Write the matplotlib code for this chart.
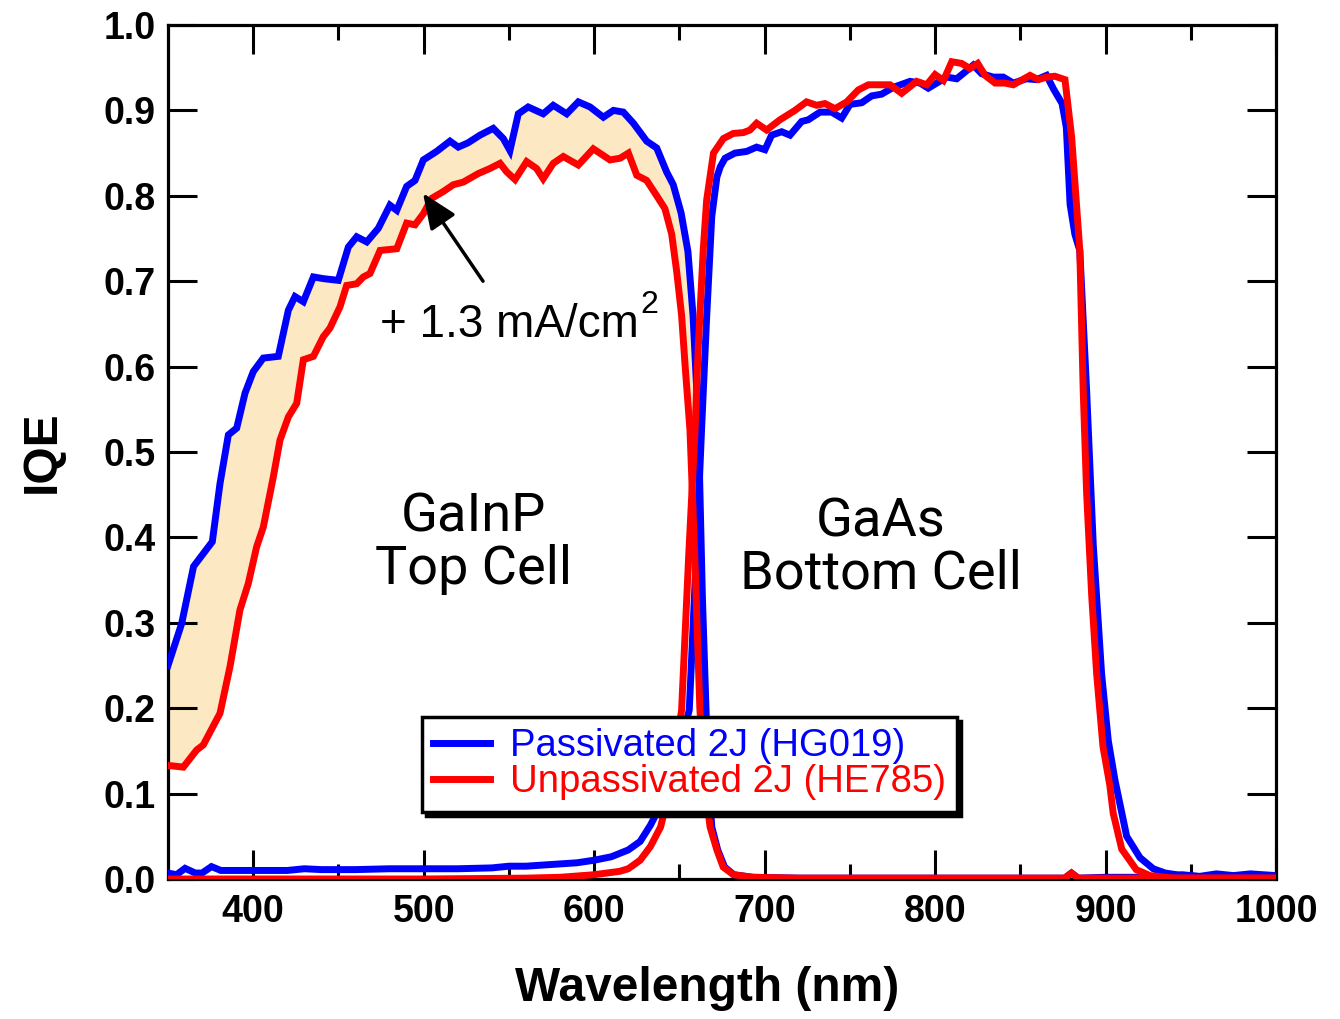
import numpy as np
import matplotlib
matplotlib.use("Agg")
import matplotlib.pyplot as plt

plt.rcParams['font.family'] = ['Liberation Sans', 'DejaVu Sans']

# ---------------- data ----------------
# Top cell (GaInP), passivated (blue)
wl_top_pass = [350, 358, 365, 376, 380.5, 385.4, 390.3, 395.2, 400, 405.9, 414.7, 420.6, 424.5, 429.4,
               435.3, 441.1, 449.9, 455.8, 460.7, 466.6, 473.4, 480.2, 484.2, 490, 494.9, 499.8, 507.6,
               515.4, 520.3, 526, 533, 540.8, 546.7, 550.6, 555.5, 561.3, 570.1, 576, 583.9, 590.7,
               597.6, 605.4, 611.3, 617.1, 623, 630.8, 636.7, 642.5, 646.4, 651, 655, 658, 660, 661.5,
               663.5, 665.6, 667, 669, 672.5, 676.5, 682, 693, 720, 760, 800, 840, 870, 876, 880, 884,
               900, 920, 935, 945, 955, 965, 975, 985, 1000]
iqe_top_pass = [0.25, 0.299, 0.366, 0.395, 0.463, 0.52, 0.528, 0.569, 0.594, 0.61, 0.612, 0.666, 0.682, 0.676,
                0.705, 0.703, 0.701, 0.74, 0.752, 0.746, 0.762, 0.789, 0.783, 0.811, 0.818, 0.842, 0.852,
                0.864, 0.857, 0.862, 0.871, 0.879, 0.867, 0.853, 0.896, 0.904, 0.896, 0.906, 0.896, 0.91,
                0.904, 0.892, 0.9, 0.898, 0.885, 0.864, 0.856, 0.828, 0.813, 0.78, 0.735, 0.66, 0.58, 0.5,
                0.33, 0.2, 0.12, 0.061, 0.034, 0.014, 0.005, 0.002, 0.001, 0.001, 0.001, 0.001, 0.001, 0.001, 0.007, 0.001,
                0.002, 0.002, 0.003, 0.005, 0.003, 0.006, 0.004, 0.006, 0.004]

# Top cell (GaInP), unpassivated (red)
wl_top_unpass = [350, 359, 366.8, 370.7, 380.5, 386.4, 392.2, 397.1, 402, 405.9, 411.8, 415.7, 420.6, 425.5,
                 429.4, 435.3, 441.1, 445, 450.9, 454.8, 460.7, 464.6, 468.5, 474.4, 484.2, 490, 494.9,
                 499.8, 504.7, 511.5, 517.4, 523.2, 532, 538.9, 544.8, 548.7, 553.6, 560.4, 566.2, 570.1,
                 576, 581.9, 590.7, 599.5, 609.3, 615.2, 620.1, 625, 630.8, 636.7, 641.5, 645.5, 648.5,
                 651.3, 653.4, 656.2, 659, 662, 665, 668, 672, 675.7, 681.7, 693, 720, 800, 870, 876, 880,
                 884, 940, 1000]
iqe_top_unpass = [0.133, 0.131, 0.151, 0.157, 0.194, 0.249, 0.315, 0.346, 0.389, 0.412, 0.471, 0.514, 0.541, 0.557,
                  0.608, 0.612, 0.635, 0.645, 0.67, 0.695, 0.697, 0.705, 0.709, 0.736, 0.738, 0.768, 0.766,
                  0.779, 0.797, 0.805, 0.813, 0.816, 0.826, 0.832, 0.838, 0.828, 0.819, 0.84, 0.832, 0.82,
                  0.838, 0.846, 0.836, 0.855, 0.842, 0.844, 0.85, 0.824, 0.818, 0.80, 0.785, 0.755, 0.71,
                  0.66, 0.60, 0.526, 0.38, 0.2, 0.11, 0.061, 0.034, 0.014, 0.005, 0.002, 0.001, 0.001, 0.001, 0.001, 0.007,
                  0.001, 0.001, 0.001]

# Bottom cell (GaAs), passivated (blue)
wl_bot_pass = [350, 355, 360, 366, 370, 375.5, 381, 400, 420, 430, 440, 460, 480, 500, 520, 540, 550, 560,
               575, 590, 600, 610, 615, 620, 627, 633, 640, 646, 651, 655.8, 659.5, 663, 666, 669, 672,
               674, 676.8, 682.6, 689.5, 695.3, 700.2, 704.1, 710, 714.9, 721.7, 725.6, 732.5, 739.3,
               745.2, 750.1, 757, 762.8, 768.6, 775.5, 785.3, 791.2, 796, 801, 806.8, 812.7, 817.6, 822.4,
               827.3, 834.1, 840, 845.9, 853.6, 859.5, 865.4, 869.5, 874.5, 877, 879.2, 882, 884.9, 888.9,
               892.8, 897.7, 901.6, 905.5, 912.4, 920.2, 928, 935, 945, 955, 965, 980, 1000]
iqe_bot_pass = [0.007, 0.005, 0.0125, 0.007, 0.007, 0.0145, 0.01, 0.01, 0.01, 0.012, 0.011, 0.011, 0.012, 0.012,
                0.012, 0.013, 0.015, 0.015, 0.017, 0.019, 0.022, 0.026, 0.030, 0.034, 0.044, 0.063, 0.09,
                0.125, 0.16, 0.198, 0.36, 0.526, 0.658, 0.776, 0.822, 0.834, 0.844, 0.85, 0.852, 0.857,
                0.854, 0.871, 0.875, 0.871, 0.887, 0.889, 0.898, 0.898, 0.891, 0.907, 0.909, 0.917, 0.919,
                0.927, 0.934, 0.932, 0.926, 0.932, 0.939, 0.937, 0.945, 0.953, 0.943, 0.939, 0.939, 0.932,
                0.937, 0.936, 0.941, 0.925, 0.908, 0.88, 0.79, 0.755, 0.736, 0.572, 0.391, 0.24, 0.162,
                0.116, 0.05, 0.025, 0.012, 0.007, 0.004, 0.003, 0.002, 0.002, 0.002]

# Bottom cell (GaAs), unpassivated (red)
wl_bot_unpass = [350, 400, 500, 560, 580, 600, 615, 620, 627, 633, 639, 645, 651.3, 655.5, 659.2, 661, 664,
                 666, 670, 675.8, 681.6, 687.5, 691.4, 695.3, 701.2, 709, 717.8, 724.6, 730.5, 735.4, 741.3,
                 748.2, 755, 760.9, 773.6, 780.4, 789.2, 795.1, 800, 804.9, 809.8, 815.6, 820.5, 825, 829.3,
                 835.2, 841, 845.9, 855.7, 860.6, 865.4, 870.3, 876.2, 880.1, 884.9, 886.9, 888.9, 891.9,
                 894.8, 898.5, 902.5, 904.5, 909.5, 918, 926, 940, 1000]
iqe_bot_unpass = [0.0, 0.0, 0.0, 0.001, 0.002, 0.005, 0.009, 0.012, 0.022, 0.038, 0.061, 0.11, 0.198, 0.38, 0.526,
                  0.62, 0.737, 0.795, 0.85, 0.867, 0.873, 0.874, 0.877, 0.885, 0.877, 0.889, 0.9, 0.91, 0.906,
                  0.908, 0.902, 0.91, 0.924, 0.93, 0.93, 0.92, 0.934, 0.93, 0.942, 0.935, 0.957, 0.955, 0.949,
                  0.955, 0.941, 0.932, 0.932, 0.93, 0.941, 0.936, 0.939, 0.94, 0.936, 0.869, 0.736, 0.572,
                  0.452, 0.331, 0.24, 0.155, 0.11, 0.077, 0.035, 0.011, 0.004, 0.001, 0.001]

legend_labels = ['Passivated 2J (HG019)', 'Unpassivated 2J (HE785)']
xticks = [400, 500, 600, 700, 800, 900, 1000]
yticks = [0.0, 0.1, 0.2, 0.3, 0.4, 0.5, 0.6, 0.7, 0.8, 0.9, 1.0]

BLUE = '#0000FF'
RED = '#FF0000'
FILL = '#FDE8C4'

# ---------------- figure ----------------
fig = plt.figure(figsize=(13.4, 10.19), dpi=100)
ax = fig.add_axes([168/1340, 1-879/1019, (1276-168)/1340, (879-25)/1019])

# shaded gain region between top-cell curves
wb = np.array(wl_top_pass); yb = np.array(iqe_top_pass)
wr = np.array(wl_top_unpass); yr = np.array(iqe_top_unpass)
mb = wb <= 661.5
mr = wr <= 656.2
ax.fill(np.concatenate([wb[mb], wr[mr][::-1]]), np.concatenate([yb[mb], yr[mr][::-1]]),
        color=FILL, lw=0, zorder=1)

lw = 5.0
l1, = ax.plot(wl_top_pass, iqe_top_pass, color=BLUE, lw=lw, zorder=3, solid_joinstyle='miter')
ax.plot(wl_bot_pass, iqe_bot_pass, color=BLUE, lw=lw, zorder=3, solid_joinstyle='miter')
l2, = ax.plot(wl_top_unpass, iqe_top_unpass, color=RED, lw=lw, zorder=4, solid_joinstyle='miter')
ax.plot(wl_bot_unpass, iqe_bot_unpass, color=RED, lw=lw, zorder=4, solid_joinstyle='miter')

ax.set_xlim(350, 1000)
ax.set_ylim(0, 1.0)
ax.set_xticks(xticks)
ax.set_xticklabels([str(t) for t in xticks])
ax.set_xticks([450, 550, 650, 750, 850, 950], minor=True)
ax.set_yticks(yticks)
ax.set_yticklabels([f'{t:.1f}' for t in yticks])

for s in ax.spines.values():
    s.set_linewidth(2.3)
ax.tick_params(which='major', direction='in', length=21, width=2.2, top=True, right=True,
               labelsize=27)
ax.tick_params(which='minor', direction='in', length=11, width=2.2, top=True, right=True)
ax.tick_params(axis='x', which='major', pad=11)
ax.tick_params(axis='y', which='major', pad=9)
for lab in ax.get_xticklabels() + ax.get_yticklabels():
    lab.set_fontweight('bold')

ax.set_xlabel('Wavelength (nm)', fontsize=34.5, fontweight='bold', labelpad=26)
ax.xaxis.label.set_position((0.487, 0))
ax.set_ylabel('IQE', fontsize=34.5, fontweight='bold', labelpad=28)

# annotations
cell_font = dict(family=['Roboto', 'Liberation Sans'], fontweight='normal', fontsize=39)
ax.text(529, 0.393, 'GaInP\nTop Cell', ha='center', va='center', linespacing=1.02, **cell_font)
ax.text(768, 0.388, 'GaAs\nBottom Cell', ha='center', va='center', linespacing=1.02, **cell_font)

ax.text(474.5, 0.635, '+ 1.3 mA/cm', fontsize=33, ha='left', va='baseline')
ax.text(626.9, 0.663, '2', fontsize=23, ha='left', va='baseline')
ax.annotate('', xy=(499.6, 0.803), xytext=(534.8, 0.700),
            arrowprops=dict(arrowstyle='-|>,head_length=0.9,head_width=0.38', color='k', lw=2.5,
                            shrinkA=0, shrinkB=0, mutation_scale=24), zorder=6)

leg = ax.legend([l1, l2], legend_labels, loc='upper left', bbox_to_anchor=(0.229, 0.19),
                fontsize=27.5, frameon=True, fancybox=False, edgecolor='k', handlelength=1.5,
                handletextpad=0.5, labelspacing=0.0, borderpad=0.3, borderaxespad=0,
                labelcolor='linecolor', shadow={'color': 'k', 'alpha': 1.0, 'ox': 3, 'oy': -3})
leg.get_frame().set_linewidth(2.5)
leg.set_zorder(10)
for h in leg.get_lines():
    h.set_linewidth(5)

fig.savefig('out.png', dpi=100)
